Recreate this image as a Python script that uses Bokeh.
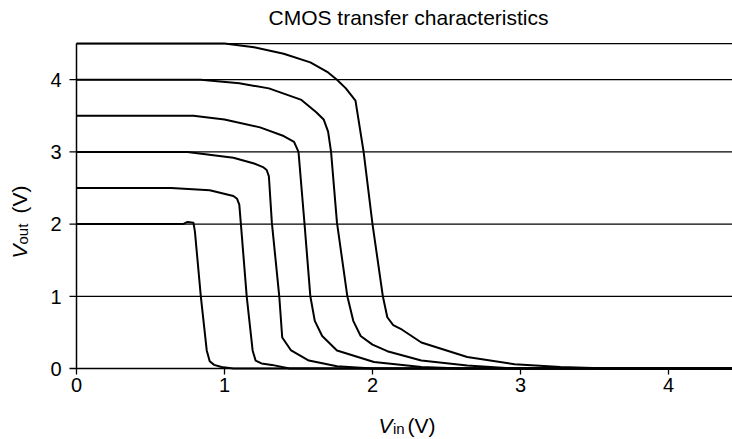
import math
from bokeh.plotting import figure
from bokeh.models import Range1d
from bokeh.core.properties import value
from bokeh.embed import file_html
from bokeh.resources import INLINE

# Inverter transfer curves, one per supply voltage (V_in, V_out in volts)
vin_20 = [0, 0.50, 0.72, 0.75, 0.79, 0.80, 0.84, 0.88, 0.90, 0.93, 0.98, 1.06, 4.5]
vout_20 = [2.0, 2.0, 2.0, 2.03, 2.02, 1.90, 1.0, 0.25, 0.10, 0.05, 0.02, 0.0, 0.0]

vin_25 = [0, 0.64, 0.90, 1.06, 1.085, 1.10, 1.11, 1.15, 1.19, 1.21, 1.25, 1.32, 1.44, 4.5]
vout_25 = [2.5, 2.5, 2.47, 2.39, 2.35, 2.27, 2.02, 1.0, 0.25, 0.11, 0.07, 0.05, 0.0, 0.0]

vin_30 = [0, 0.75, 1.06, 1.20, 1.26, 1.285, 1.30, 1.32, 1.37, 1.39, 1.45, 1.57, 1.76, 2.0, 4.5]
vout_30 = [3.0, 3.0, 2.92, 2.84, 2.79, 2.75, 2.66, 2.02, 1.0, 0.43, 0.25, 0.11, 0.03, 0.0, 0.0]

vin_35 = [0, 0.79, 1.0, 1.24, 1.40, 1.47, 1.50, 1.54, 1.58, 1.61, 1.66, 1.76, 2.01, 2.33, 2.6, 4.5]
vout_35 = [3.5, 3.5, 3.45, 3.34, 3.22, 3.14, 3.0, 2.02, 1.0, 0.66, 0.45, 0.25, 0.09, 0.02, 0.0, 0.0]

vin_40 = [0, 0.84, 1.10, 1.30, 1.52, 1.62, 1.67, 1.70, 1.72, 1.76, 1.83, 1.87, 1.92, 2.0, 2.10,
          2.33, 2.64, 2.96, 4.5]
vout_40 = [4.0, 4.0, 3.95, 3.88, 3.72, 3.55, 3.45, 3.28, 3.0, 2.02, 1.0, 0.66, 0.45, 0.33, 0.24,
           0.11, 0.04, 0.0, 0.0]

vin_45 = [0, 1.0, 1.2, 1.40, 1.58, 1.70, 1.76, 1.82, 1.885, 1.94, 2.0, 2.07, 2.10, 2.14, 2.19,
          2.33, 2.64, 2.96, 3.27, 3.6, 4.5]
vout_45 = [4.5, 4.5, 4.45, 4.36, 4.24, 4.10, 4.0, 3.88, 3.71, 3.0, 2.0, 1.0, 0.71, 0.60, 0.55,
           0.36, 0.16, 0.06, 0.02, 0.0, 0.0]

curves = [(vin_20, vout_20), (vin_25, vout_25), (vin_30, vout_30),
          (vin_35, vout_35), (vin_40, vout_40), (vin_45, vout_45)]

x_ticks = [0, 1, 2, 3, 4]
y_ticks = [0, 1, 2, 3, 4]
grid_levels = [1, 2, 3, 4, 4.5]
X_MAX = 4.43
Y_MAX = 4.5

# Canvas layout: the frame fills the whole canvas so that axes, ticks and
# labels can all be drawn in data coordinates.
W, H = 732, 439
LEFT_PX, BOTTOM_PX = 76, 71
PX_X = 148.0   # pixels per volt, horizontal
PX_Y = 72.2    # pixels per volt, vertical
dx = 1.0 / PX_X
dy = 1.0 / PX_Y
LIFT = 6.5     # baseline correction for text, in pixels

FONT = "Liberation Sans"

p = figure(width=W, height=H,
           x_range=Range1d(-LEFT_PX * dx, (W - LEFT_PX) * dx),
           y_range=Range1d(-BOTTOM_PX * dy, (H - BOTTOM_PX) * dy),
           output_backend="svg", toolbar_location=None, title=None,
           min_border=0, x_axis_type=None, y_axis_type=None)
p.outline_line_color = None
p.grid.visible = False
p.background_fill_color = "white"
p.border_fill_color = "white"

# horizontal reference lines
p.segment(x0=[0] * len(grid_levels), y0=grid_levels, x1=[X_MAX] * len(grid_levels),
          y1=grid_levels, line_color="black", line_width=1.3)

# axis lines
p.segment(x0=[0, 0], y0=[0, 0], x1=[X_MAX, 0], y1=[0, Y_MAX],
          line_color="black", line_width=1.5)

# tick marks
p.segment(x0=x_ticks, y0=[0] * len(x_ticks), x1=x_ticks, y1=[-6 * dy] * len(x_ticks),
          line_color="black", line_width=1.3)
p.segment(x0=[0] * len(y_ticks), y0=y_ticks, x1=[-7 * dx] * len(y_ticks), y1=y_ticks,
          line_color="black", line_width=1.3)

# tick labels
p.text(x=x_ticks, y=[(-22.5 + LIFT) * dy] * len(x_ticks), text=[str(t) for t in x_ticks],
       text_font=value(FONT), text_font_size=value("20px"), text_color="black",
       text_align="center", text_baseline="alphabetic")
p.text(x=[-15 * dx] * len(y_ticks), y=[t + (LIFT - 6.7) * dy for t in y_ticks],
       text=[str(t) for t in y_ticks],
       text_font=value(FONT), text_font_size=value("20px"), text_color="black",
       text_align="right", text_baseline="alphabetic")

# transfer curves
for vin, vout in curves:
    p.line(vin, vout, line_color="black", line_width=2.0)


def add_text(text, x, y, size, style="normal", align="left", angle=0.0):
    p.text(x=[x], y=[y], text=[text], text_font=value(FONT), text_font_size=value(size),
           text_font_style=style, text_align=align, text_baseline="alphabetic",
           text_color="black", angle=angle)


# title
add_text("CMOS transfer characteristics", (408 - LEFT_PX) * dx, (368 - 23 + LIFT) * dy,
         "21px", align="center")

# x-axis label: V_in (V)
add_text("V", (392 - LEFT_PX) * dx, (-63 + LIFT) * dy, "21px", style="italic", align="right")
add_text("in", (392.5 - LEFT_PX) * dx, (-66 + LIFT) * dy, "15px")
add_text("(V)", (407 - LEFT_PX) * dx, (-63 + LIFT) * dy, "21px")

# y-axis label: V_out (V), reading bottom to top
half_pi = math.pi / 2
add_text("V", (25.5 - LIFT - LEFT_PX) * dx, (368 - 258) * dy, "21px", style="italic",
         angle=half_pi)
add_text("out", (28.5 - LIFT - LEFT_PX) * dx, (368 - 244) * dy, "15px", angle=half_pi)
add_text("(V)", (25.5 - LIFT - LEFT_PX) * dx, (368 - 213) * dy, "21px", angle=half_pi)

open("out.html", "w").write(file_html(p, INLINE))
